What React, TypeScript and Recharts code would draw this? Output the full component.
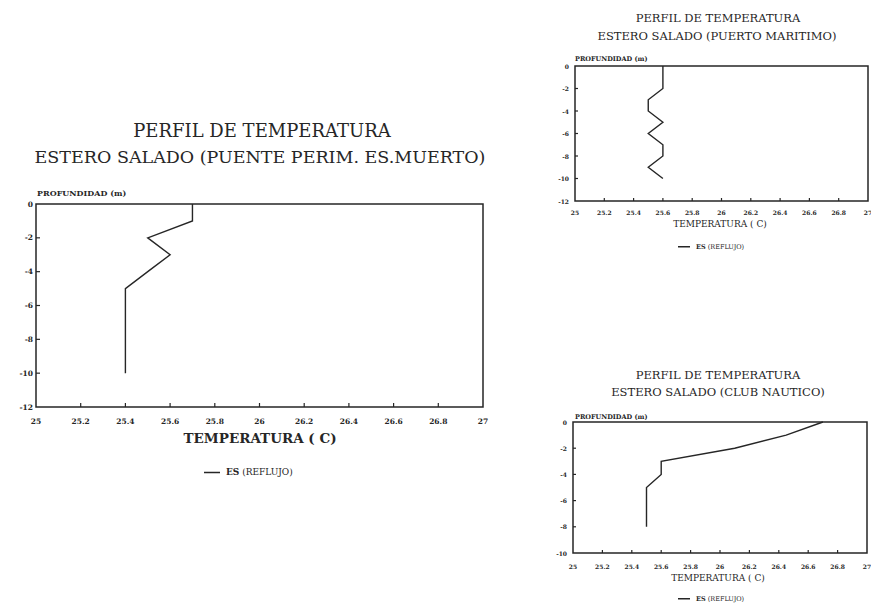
import { ReferenceArea, Scatter, ScatterChart, XAxis, YAxis } from 'recharts';

const INK = '#262626';
const SERIF = '"DejaVu Serif", "Liberation Serif", serif';

const TEMP_TICKS = [25, 25.2, 25.4, 25.6, 25.8, 26, 26.2, 26.4, 26.6, 26.8, 27];

// Puente Perimetral / Estero Muerto
const MUERTO_DEPTH = [0, -1, -2, -3, -4, -5, -10];
const MUERTO_TEMP = [25.7, 25.7, 25.5, 25.6, 25.5, 25.4, 25.4];
const MUERTO_DEPTH_TICKS = [0, -2, -4, -6, -8, -10, -12];

// Puerto Maritimo
const MARITIMO_DEPTH = [0, -2, -3, -4, -5, -6, -7, -8, -9, -10];
const MARITIMO_TEMP = [25.6, 25.6, 25.5, 25.5, 25.6, 25.5, 25.6, 25.6, 25.5, 25.6];
const MARITIMO_DEPTH_TICKS = [0, -2, -4, -6, -8, -10, -12];

// Club Nautico
const NAUTICO_DEPTH = [0, -1, -2, -3, -4, -5, -8];
const NAUTICO_TEMP = [26.7, 26.45, 26.1, 25.6, 25.6, 25.5, 25.5];
const NAUTICO_DEPTH_TICKS = [0, -2, -4, -6, -8, -10];

type Box = { left: number; top: number; width: number; height: number };

function xTick(gap: number, len: number, size: number) {
  return (p: any) => {
    const v = p.payload.value;
    const edge = v === 25 || v === 27;
    return (
      <g>
        {!edge && (
          <line x1={p.x} x2={p.x} y1={p.y - gap} y2={p.y - gap - len} stroke={INK} strokeWidth={1.2} />
        )}
        <text x={p.x} y={p.y} textAnchor="middle" dominantBaseline="central"
          fontFamily={SERIF} fontWeight={700} fontSize={size} fill={INK}>
          {String(v)}
        </text>
      </g>
    );
  };
}

function yTick(gap: number, len: number, size: number, min: number) {
  return (p: any) => {
    const v = p.payload.value;
    const edge = v === 0 || v === min;
    return (
      <g>
        {!edge && (
          <line x1={p.x + gap} x2={p.x + gap + len} y1={p.y} y2={p.y} stroke={INK} strokeWidth={1.2} />
        )}
        <text x={p.x} y={p.y} textAnchor="end" dominantBaseline="central"
          fontFamily={SERIF} fontWeight={700} fontSize={size} fill={INK}>
          {String(v)}
        </text>
      </g>
    );
  };
}

function ProfileChart(props: {
  box: Box;
  margin: { top: number; right: number; bottom: number; left: number };
  yWidth: number;
  xHeight: number;
  depth: number[];
  temp: number[];
  depthTicks: number[];
  xGap: number;
  yGap: number;
  tickLen: number;
  tickFont: number;
}) {
  const { box, depth, temp, depthTicks } = props;
  const min = depthTicks[depthTicks.length - 1];
  const data = depth.map((d, i) => ({ depth: d, temp: temp[i] }));
  return (
    <div style={{ position: 'absolute', left: box.left, top: box.top }}>
      <ScatterChart width={box.width} height={box.height} margin={props.margin}>
        <XAxis
          type="number"
          dataKey="temp"
          domain={[25, 27]}
          ticks={TEMP_TICKS}
          interval={0}
          height={props.xHeight}
          axisLine={false}
          tickLine={false}
          tickSize={0}
          tickMargin={props.xGap}
          tick={xTick(props.xGap, props.tickLen, props.tickFont)}
        />
        <YAxis
          type="number"
          dataKey="depth"
          domain={[min, 0]}
          ticks={depthTicks}
          interval={0}
          width={props.yWidth}
          axisLine={false}
          tickLine={false}
          tickSize={0}
          tickMargin={props.yGap}
          tick={yTick(props.yGap, props.tickLen, props.tickFont, min)}
        />
        <ReferenceArea x1={25} x2={27} y1={min} y2={0} fill="none" stroke={INK} strokeWidth={1.5} />
        <Scatter
          data={data}
          line={{ stroke: INK, strokeWidth: 1.4 }}
          shape={() => <g />}
          isAnimationActive={false}
        />
      </ScatterChart>
    </div>
  );
}

function Txt({ x, y, size, bold, anchor = 'middle', children }: {
  x: number; y: number; size: number; bold?: boolean; anchor?: 'start' | 'middle'; children: any;
}) {
  return (
    <div
      style={{
        position: 'absolute',
        left: x,
        top: y,
        transform: `translate(${anchor === 'middle' ? '-50%' : '0'}, -50%)`,
        fontFamily: SERIF,
        fontSize: size,
        fontWeight: bold ? 700 : 400,
        color: INK,
        whiteSpace: 'nowrap',
        lineHeight: 1,
      }}
    >
      {children}
    </div>
  );
}

function LegendItem({ x, y, lineLen, size }: { x: number; y: number; lineLen: number; size: number }) {
  return (
    <div style={{ position: 'absolute', left: x, top: y, transform: 'translateY(-50%)', display: 'flex', alignItems: 'center', gap: 6 }}>
      <svg width={lineLen} height={4}>
        <line x1={0} x2={lineLen} y1={2} y2={2} stroke={INK} strokeWidth={1.3} />
      </svg>
      <span style={{ fontFamily: SERIF, fontSize: size, color: INK, lineHeight: 1, whiteSpace: 'nowrap' }}>
        <b>ES</b> (REFLUJO)
      </span>
    </div>
  );
}

export default function App() {
  return (
    <div style={{ position: 'absolute', left: 0, top: 0, width: 871, height: 603, background: '#fff', overflow: 'hidden' }}>
      {/* main chart */}
      <Txt x={262} y={131} size={18}>PERFIL DE TEMPERATURA</Txt>
      <Txt x={260} y={158} size={17.5}>ESTERO SALADO (PUENTE PERIM. ES.MUERTO)</Txt>
      <Txt x={37} y={193} size={8} bold anchor="start">PROFUNDIDAD (m)</Txt>
      <ProfileChart
        box={{ left: 0, top: 190, width: 500, height: 240 }}
        margin={{ top: 14, right: 17, bottom: 0, left: 0 }}
        yWidth={36}
        xHeight={23}
        depth={MUERTO_DEPTH}
        temp={MUERTO_TEMP}
        depthTicks={MUERTO_DEPTH_TICKS}
        xGap={14}
        yGap={3}
        tickLen={4}
        tickFont={7.5}
      />
      <Txt x={260} y={439} size={13.5} bold>TEMPERATURA ( C)</Txt>
      <LegendItem x={204} y={472} lineLen={16} size={9} />

      {/* puerto maritimo */}
      <Txt x={718} y={19} size={11.5}>PERFIL DE TEMPERATURA</Txt>
      <Txt x={717} y={37} size={11.5}>ESTERO SALADO (PUERTO MARITIMO)</Txt>
      <Txt x={575} y={59} size={6.5} bold anchor="start">PROFUNDIDAD (m)</Txt>
      <ProfileChart
        box={{ left: 540, top: 56, width: 331, height: 165 }}
        margin={{ top: 10, right: 3, bottom: 0, left: 0 }}
        yWidth={35}
        xHeight={20}
        depth={MARITIMO_DEPTH}
        temp={MARITIMO_TEMP}
        depthTicks={MARITIMO_DEPTH_TICKS}
        xGap={11}
        yGap={6}
        tickLen={3}
        tickFont={6}
      />
      <Txt x={720} y={224} size={9}>TEMPERATURA ( C)</Txt>
      <LegendItem x={678} y={247} lineLen={12} size={6.5} />

      {/* club nautico */}
      <Txt x={718} y={376} size={11.5}>PERFIL DE TEMPERATURA</Txt>
      <Txt x={718} y={393} size={11.5}>ESTERO SALADO (CLUB NAUTICO)</Txt>
      <Txt x={575} y={417} size={6.5} bold anchor="start">PROFUNDIDAD (m)</Txt>
      <ProfileChart
        box={{ left: 540, top: 412, width: 331, height: 161 }}
        margin={{ top: 10, right: 4, bottom: 0, left: 0 }}
        yWidth={33}
        xHeight={20}
        depth={NAUTICO_DEPTH}
        temp={NAUTICO_TEMP}
        depthTicks={NAUTICO_DEPTH_TICKS}
        xGap={13}
        yGap={6}
        tickLen={3}
        tickFont={6}
      />
      <Txt x={718} y={578} size={9}>TEMPERATURA ( C)</Txt>
      <LegendItem x={678} y={599} lineLen={12} size={6.5} />
    </div>
  );
}
